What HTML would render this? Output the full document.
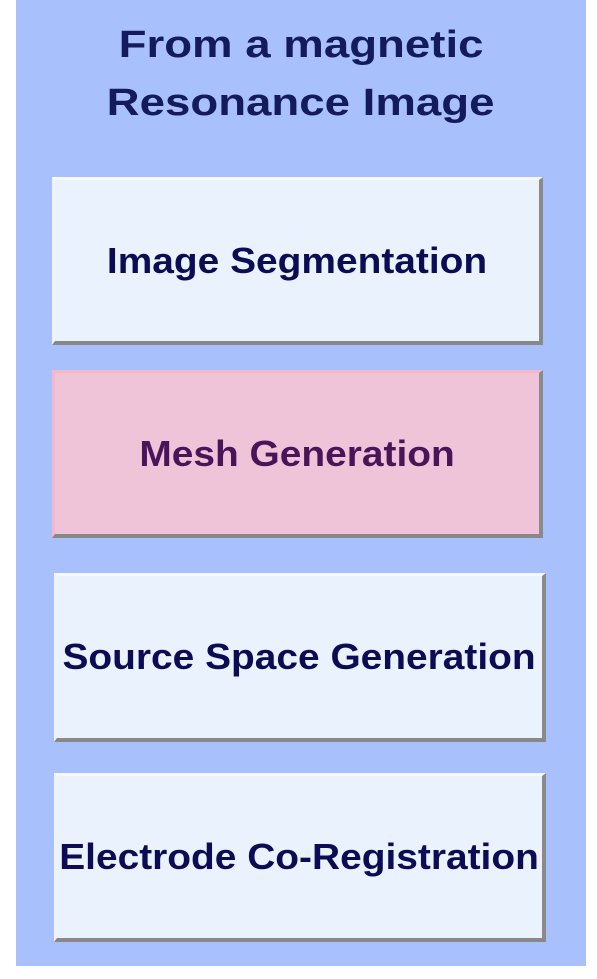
<!DOCTYPE html>
<html><head><meta charset="utf-8"><style>
body{margin:0;width:597px;height:979px;background:#fff;position:relative;overflow:hidden;font-family:"Liberation Sans",Arial,sans-serif}
#panel{position:absolute;left:16px;top:0;width:570px;height:966px;background:#a8c1fc}
.title{position:absolute;left:16px;width:570px;text-align:center;font-weight:bold;font-size:38px;color:#141a5e;line-height:44px}
.title span,.btn span{display:inline-block}
.title span{transform:scaleX(1.2)}
.btn{position:absolute;box-sizing:border-box;background:#eaf2fe;border-top:3px solid #f6f8fc;border-left:3px solid #f0f2f8;border-right:4px solid #8a8a8a;border-bottom:4px solid #888;display:flex;align-items:center;justify-content:center;font-weight:bold;font-size:36px;color:#0c0c55;white-space:nowrap}
.btn span{transform:scaleX(1.08)}
.pink{background:#efc3d8;border-top-color:#f4b8cc;border-left-color:#f4b8cc;color:#4a1458}
</style></head><body>
<div id="panel"></div>
<div class="title" style="top:23px"><span>From a magnetic</span></div>
<div class="title" style="top:81px"><span>Resonance Image</span></div>
<div class="btn" style="left:52px;top:177px;width:491px;height:168px"><span>Image Segmentation</span></div>
<div class="btn pink" style="left:52px;top:370px;width:491px;height:168px"><span>Mesh Generation</span></div>
<div class="btn" style="left:54px;top:573px;width:492px;height:169px"><span>Source Space Generation</span></div>
<div class="btn" style="left:54px;top:773px;width:492px;height:169px"><span>Electrode Co-Registration</span></div>
</body></html>
